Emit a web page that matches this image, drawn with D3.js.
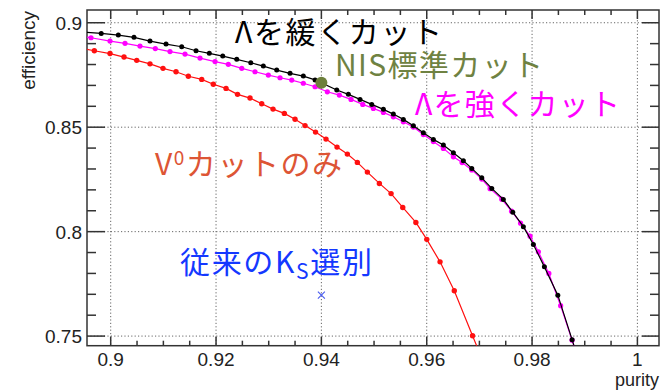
<!DOCTYPE html>
<html>
<head>
<meta charset="utf-8">
<script src="https://cdn.jsdelivr.net/npm/d3@7"></script>
<style>
body { margin: 0; background: #fff; }
svg { display: block; }
</style>
</head>
<body>
<div id="drawArea"></div>
<script>
// purity / efficiency pairs
var loosePurity = [0.89417, 0.8982, 0.90144, 0.90442, 0.90746, 0.9105, 0.91348, 0.9162, 0.91872, 0.92127, 0.92393, 0.92659, 0.92898, 0.93152, 0.93405, 0.93657, 0.9388, 0.94292, 0.94512, 0.94734, 0.94956, 0.95177, 0.95366, 0.95556, 0.95746, 0.95936, 0.96126, 0.96316, 0.96506, 0.96696, 0.96855, 0.97045, 0.97235, 0.97455, 0.97634, 0.97835, 0.98025, 0.98234, 0.98489, 0.9876, 0.99026];
var looseEff = [0.89564, 0.8949, 0.8941, 0.89301, 0.89124, 0.8898, 0.88851, 0.88659, 0.88534, 0.88405, 0.88247, 0.88084, 0.87926, 0.87735, 0.87577, 0.87447, 0.87265, 0.86777, 0.86571, 0.86331, 0.86092, 0.85853, 0.85627, 0.85374, 0.85067, 0.84732, 0.84416, 0.84143, 0.83774, 0.83391, 0.83027, 0.82577, 0.82069, 0.81542, 0.80934, 0.80239, 0.79387, 0.78314, 0.76959, 0.74828, 0.72696];

var tightPurity = [0.89417, 0.89626, 0.89987, 0.90272, 0.90556, 0.90847, 0.91126, 0.91411, 0.91696, 0.91981, 0.92233, 0.92488, 0.9274, 0.92993, 0.93215, 0.93437, 0.93657, 0.9388, 0.94113, 0.94341, 0.94563, 0.94785, 0.94987, 0.95177, 0.95366, 0.95556, 0.95746, 0.95936, 0.96126, 0.96316, 0.96506, 0.96671, 0.96855, 0.97045, 0.97203, 0.97425, 0.97611, 0.97782, 0.97962, 0.9812, 0.98319, 0.98542, 0.9876, 0.99026];
var tightEff = [0.89363, 0.89282, 0.89124, 0.89013, 0.88884, 0.88764, 0.88621, 0.88501, 0.88309, 0.88142, 0.88008, 0.87816, 0.87653, 0.87495, 0.87366, 0.87256, 0.87103, 0.86935, 0.86695, 0.86537, 0.86331, 0.86092, 0.859, 0.85709, 0.85498, 0.85259, 0.85005, 0.84646, 0.8431, 0.83985, 0.83582, 0.83305, 0.82955, 0.82514, 0.82059, 0.81556, 0.80982, 0.80407, 0.79784, 0.79033, 0.77998, 0.76456, 0.74803, 0.72696];

var v0Purity = [0.89417, 0.89689, 0.89987, 0.90253, 0.90494, 0.90746, 0.90993, 0.9124, 0.91474, 0.91728, 0.91948, 0.9219, 0.92408, 0.92645, 0.92867, 0.93082, 0.93297, 0.935, 0.9369, 0.93889, 0.94088, 0.94297, 0.94493, 0.94683, 0.94873, 0.95101, 0.95323, 0.95545, 0.95794, 0.96001, 0.96253, 0.96523, 0.9687, 0.97218];
var v0Eff = [0.88779, 0.88659, 0.88525, 0.88357, 0.88199, 0.88032, 0.87816, 0.87653, 0.87438, 0.87289, 0.87055, 0.86858, 0.86571, 0.86394, 0.86121, 0.85867, 0.85661, 0.85378, 0.85077, 0.84765, 0.8443, 0.84047, 0.83712, 0.83314, 0.8285, 0.82308, 0.8182, 0.81159, 0.80441, 0.79631, 0.78554, 0.77174, 0.75019, 0.72864];

var nisPoint = [0.94, 0.8713];
var ksPoint = [0.94, 0.7696];

var xTicks = [0.9, 0.92, 0.94, 0.96, 0.98, 1];
var yTicks = [0.75, 0.8, 0.85, 0.9];
var xTickLabels = ["0.9", "0.92", "0.94", "0.96", "0.98", "1"];
var yTickLabels = ["0.75", "0.8", "0.85", "0.9"];

var W = 666, H = 392;
var frameL = 87, frameR = 659, frameT = 10, frameB = 345.7;

var x = d3.scaleLinear().domain([0.8955, 1.0041]).range([frameL, frameR]);
var y = d3.scaleLinear().domain([0.7454, 0.9061]).range([frameB, frameT]);

var svg = d3.select("#drawArea").append("svg")
	.attr("width", W)
	.attr("height", H);

var font = "'Liberation Sans', Arial, Helvetica, sans-serif";
var jfont = "'Noto Sans CJK JP', 'Noto Sans', sans-serif";

svg.append("clipPath").attr("id", "frameClip")
	.append("rect")
	.attr("x", frameL).attr("y", frameT)
	.attr("width", frameR - frameL).attr("height", frameB - frameT);

// grid
var grid = svg.append("g")
	.attr("stroke", "#666")
	.attr("stroke-width", 1)
	.attr("stroke-dasharray", "1.2,2.2");
grid.selectAll(".gx").data(xTicks).enter().append("line")
	.attr("x1", function(d) { return x(d); })
	.attr("x2", function(d) { return x(d); })
	.attr("y1", frameT).attr("y2", frameB);
grid.selectAll(".gy").data(yTicks).enter().append("line")
	.attr("y1", function(d) { return y(d); })
	.attr("y2", function(d) { return y(d); })
	.attr("x1", frameL).attr("x2", frameR);

// axes: ROOT style with ticks on all four sides
var xMinor = d3.range(0.9, 1.0001, 0.005);
var yMinor = d3.range(0.75, 0.9001, 0.01);
var axes = svg.append("g").attr("stroke", "#333").attr("stroke-width", 1.5);

axes.selectAll(".xt").data(xMinor).enter().append("line")
	.attr("x1", function(d) { return x(d); })
	.attr("x2", function(d) { return x(d); })
	.attr("y1", frameB)
	.attr("y2", function(d, i) { return frameB - (i % 4 == 0 ? 9 : 5); });
axes.selectAll(".xtt").data(xMinor).enter().append("line")
	.attr("x1", function(d) { return x(d); })
	.attr("x2", function(d) { return x(d); })
	.attr("y1", frameT)
	.attr("y2", function(d, i) { return frameT + (i % 4 == 0 ? 9 : 5); });
axes.selectAll(".yt").data(yMinor).enter().append("line")
	.attr("y1", function(d) { return y(d); })
	.attr("y2", function(d) { return y(d); })
	.attr("x1", frameL)
	.attr("x2", function(d, i) { return frameL + (i % 5 == 0 ? 18 : 9); });
axes.selectAll(".ytr").data(yMinor).enter().append("line")
	.attr("y1", function(d) { return y(d); })
	.attr("y2", function(d) { return y(d); })
	.attr("x1", frameR)
	.attr("x2", function(d, i) { return frameR - (i % 5 == 0 ? 17 : 9); });

svg.append("rect")
	.attr("x", frameL).attr("y", frameT)
	.attr("width", frameR - frameL).attr("height", frameB - frameT)
	.attr("fill", "none")
	.attr("stroke", "#333")
	.attr("stroke-width", 1.5);

// tick labels
svg.selectAll(".xl").data(xTicks).enter().append("text")
	.attr("x", function(d) { return x(d); })
	.attr("y", 366)
	.attr("text-anchor", "middle")
	.attr("font-family", font)
	.attr("font-size", 19)
	.attr("fill", "#222")
	.text(function(d, i) { return xTickLabels[i]; });
svg.selectAll(".yl").data(yTicks).enter().append("text")
	.attr("x", 82)
	.attr("y", function(d) { return y(d) + 7; })
	.attr("text-anchor", "end")
	.attr("font-family", font)
	.attr("font-size", 19)
	.attr("fill", "#222")
	.text(function(d, i) { return yTickLabels[i]; });

svg.append("text")
	.attr("transform", "translate(35,11) rotate(-90)")
	.attr("text-anchor", "end")
	.attr("font-family", font)
	.attr("font-size", 19)
	.attr("fill", "#222")
	.text("efficiency");
svg.append("text")
	.attr("x", 659).attr("y", 386)
	.attr("text-anchor", "end")
	.attr("font-family", font)
	.attr("font-size", 18)
	.attr("fill", "#222")
	.text("purity");

// curves
function drawSeries(px, py, color, r) {
	var pts = px.map(function(d, i) { return [d, py[i]]; });
	var g = svg.append("g").attr("clip-path", "url(#frameClip)");
	g.append("path")
		.datum(pts)
		.attr("fill", "none")
		.attr("stroke", color)
		.attr("stroke-width", 1.2)
		.attr("d", d3.line().x(function(d) { return x(d[0]); }).y(function(d) { return y(d[1]); }));
	g.selectAll("circle").data(pts).enter().append("circle")
		.attr("cx", function(d) { return x(d[0]); })
		.attr("cy", function(d) { return y(d[1]); })
		.attr("r", r)
		.attr("fill", color);
}
drawSeries(v0Purity, v0Eff, "#ff1010", 2.7);
drawSeries(tightPurity, tightEff, "#ff00ff", 2.6);
drawSeries(loosePurity, looseEff, "#000", 2.5);

// single points
svg.append("circle")
	.attr("cx", x(nisPoint[0])).attr("cy", y(nisPoint[1]))
	.attr("r", 6)
	.attr("fill", "#6d7f3c");
var s = 3.5;
var kx = x(ksPoint[0]), ky = y(ksPoint[1]);
svg.append("path")
	.attr("d", "M" + (kx - s) + "," + (ky - s) + "L" + (kx + s) + "," + (ky + s) +
		"M" + (kx - s) + "," + (ky + s) + "L" + (kx + s) + "," + (ky - s))
	.attr("stroke", "#4a5cf0")
	.attr("stroke-width", 1.1);

// annotations
function label(px, py, w, color, parts) {
	var t = svg.append("text")
		.attr("x", px).attr("y", py)
		.attr("font-family", jfont)
		.attr("font-size", 30)
		.attr("fill", color)
		.attr("textLength", w);
	parts.forEach(function(p) {
		var ts = t.append("tspan").text(p[0]);
		if (p[1] == "sup") ts.attr("font-size", 19).attr("baseline-shift", "55%");
		if (p[1] == "sub") ts.attr("font-size", 21).attr("baseline-shift", "-30%");
	});
}
label(235, 43, 207, "#000", [["Λを緩くカット"]]);
label(335, 76, 208, "#6f8242", [["NIS標準カット"]]);
label(415, 115, 205, "#ff00ff", [["Λを強くカット"]]);
label(155, 175, 187, "#dd5535", [["V"], ["0", "sup"], ["カットのみ"]]);
label(180, 273, 192, "#1438ff", [["従来のK"], ["S", "sub"], ["選別"]]);
</script>
</body>
</html>
